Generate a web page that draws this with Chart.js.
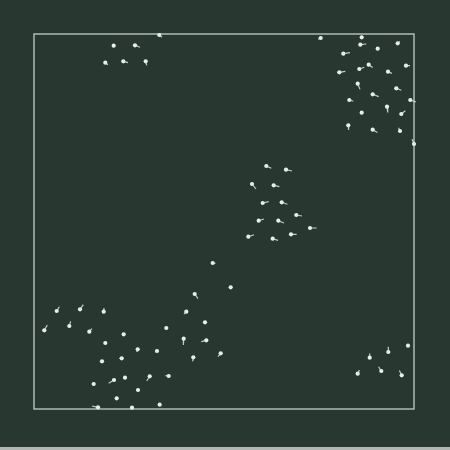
<!DOCTYPE html>
<html>
<head>
<meta charset="utf-8">
<script src="https://cdn.jsdelivr.net/npm/chart.js@4/dist/chart.umd.min.js"></script>
<style>
  html, body { margin: 0; padding: 0; background: #b4b6b4; overflow: hidden; }
  #wrap { width: 450px; height: 447px; background: #283730; }
  canvas { display: block; }
</style>
</head>
<body>
<div id="wrap"><canvas id="c" width="450" height="447"></canvas></div>
<script>
// Vector field: position (x, y) and vector components (u, v), in plot units
// (x: 0..380 left→right, y: 0..375 bottom→top)
const xs = [286.7,327.7,326.3,363.7,343.7,309.3,334.7,325.3,372,305.3,354,323.7,362.3,338.7,315.3,376.3,353,327.7,367.3,314.3,338.7,366,380,
            160.7,22.7,46,69.7,152.3,10.3,35.3,55.3,171,132.3,89.7,71.3,149.7,172.3,103.7,123,186.7,159.3,68,87.7,80,91,115.7,134.7,59.7,104,82.7,64,98,125.7,196.7,178.7,
            232.3,252,218,239.7,228.7,247.7,262.3,224.7,244.3,276,214.3,257,238.7,
            125.3,79.7,101,71.3,89.3,111.7,
            374,354.3,335.7,323.7,347.3,367.7];
const ys = [371,371.7,364.3,365.7,360.3,355.3,344.3,340,343.3,336.7,337.3,325.3,320.7,314.7,309,309,302.3,296.3,295,283.7,279.3,278,265,
            115,98,99.7,97.3,97.3,78.7,83,77.3,86.7,81,74.7,66,70.3,68.7,59.7,58,55.7,51.7,47.7,50.7,29,31.3,32.7,33,25,19,10.7,1.7,1.3,4.3,121.7,146,
            243,239.3,225,223.7,206,206.7,194,188.3,188.3,181,172.3,174.7,170.3,
            374,363.3,363.7,346.3,347.7,347.7,
            63.3,57,51.3,35.3,38,33.7];
const us = [-2.7,0,6,2,0,6.7,4,5,4,6,4,2.3,5,6,4,5.7,0.7,0,4,0.3,4.7,-1.3,-2,
            3.3,2.7,3.3,0.3,-2.3,3,1.3,2.7,0,0,0,0,-0.3,-5,-1,-1.7,-2.7,-0.7,-2,-2.3,-5.3,0,-3,-3.3,0,0,0,-6,0,0,0,2.7,
            5,6,4,5.7,6,5.7,5.7,5.3,5.7,6.7,5.7,5.7,5.3,
            2.7,0,5,2.7,4.7,1,
            1,0,0,1.7,-2.7,-2.3];
const vs = [-1.3,0,0.7,2,0,1,-2.7,1.7,0,1,-1.7,-5.7,-2,-2.3,-1.3,-2,-5.7,0,3.3,-4.7,-2.7,3.3,4.7,
            -4.7,4.3,4.7,3.7,-2.3,5.3,4.7,3,0,0,0,0,-6.3,-1.3,-2.7,-1,-3.3,-4,-0.7,0,-3.3,0,-4.7,0.3,0,0,0,1.3,0,0,0,-0.3,
            -2.3,-1.3,-5,-1.3,1.3,-2,-1,1.7,-2.3,0,2,0,-1.7,
            -2.3,0,-2,-2,-1.3,-4,
            1,5.3,4.3,3.7,4.3,4.7];

const points = xs.map((x, i) => ({ x: x, y: ys[i] }));
const segments = [];
xs.forEach((x, i) => {
  segments.push({ x: x, y: ys[i] });
  segments.push({ x: x + us[i], y: ys[i] + vs[i] });
  segments.push({ x: null, y: null });
});

const frame = {
  id: 'frame',
  beforeDatasetsDraw(chart) {
    const a = chart.chartArea, ctx = chart.ctx;
    ctx.save();
    ctx.strokeStyle = '#aebbb3';
    ctx.lineWidth = 1.5;
    ctx.strokeRect(a.left, a.top, a.right - a.left, a.bottom - a.top);
    ctx.restore();
  }
};

new Chart(document.getElementById('c'), {
  type: 'scatter',
  data: {
    datasets: [
      {
        type: 'line',
        data: segments,
        showLine: true,
        spanGaps: false,
        clip: false,
        borderColor: 'rgba(225,232,226,0.85)',
        borderWidth: 1.2,
        pointRadius: 0,
        fill: false,
        tension: 0
      },
      {
        data: points,
        clip: false,
        backgroundColor: '#eaefea',
        borderColor: '#eaefea',
        borderWidth: 0,
        pointRadius: 2.1,
        pointHoverRadius: 2.1
      }
    ]
  },
  options: {
    responsive: false,
    animation: false,
    events: [],
    layout: { padding: { left: 34, top: 34, right: 36, bottom: 38 } },
    plugins: { legend: { display: false }, tooltip: { enabled: false } },
    scales: {
      x: { type: 'linear', min: 0, max: 380, display: false },
      y: { type: 'linear', min: 0, max: 375, display: false }
    }
  },
  plugins: [frame]
});
</script>
</body>
</html>
